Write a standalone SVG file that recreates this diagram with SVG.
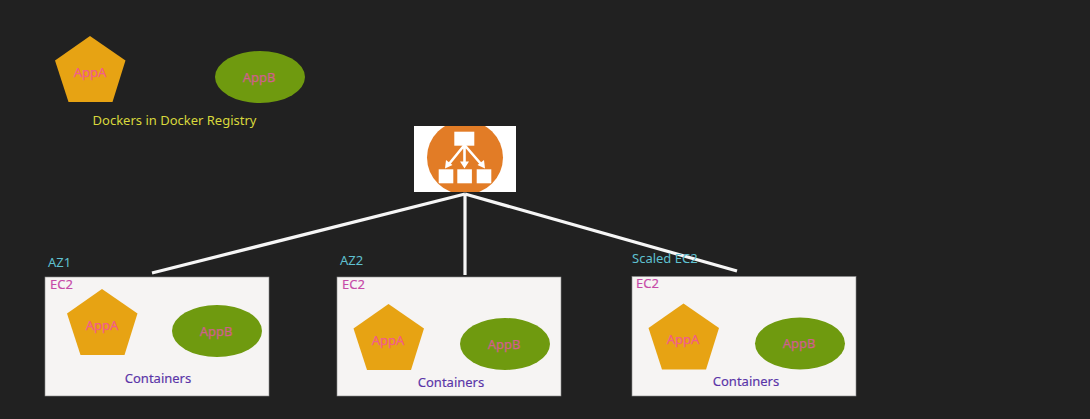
<svg xmlns="http://www.w3.org/2000/svg" width="1090" height="419" viewBox="0 0 1090 419">
<style>
text{font-family:"Noto Sans","DejaVu Sans",sans-serif;font-size:13px;text-anchor:middle}
.box{fill:#f6f4f3;stroke:#8a8a8a;stroke-width:.6}
.pent{fill:#e7a313}
.ell{fill:#6f9a0f}
.a{fill:#f25c8c;stroke:#f25c8c;stroke-width:.25}
.b{fill:#d0608c;stroke:#d0608c;stroke-width:.25}
.ec2{fill:#c649a8;text-anchor:start;stroke:#c649a8;stroke-width:.15}
.az{fill:#5fc0d0;text-anchor:start}
.c{fill:#5a35a8;stroke:#5a35a8;stroke-width:.15}
.link{stroke:#f6f6f6;stroke-width:3.2;fill:none}
.ico{fill:#fff}
.icol{stroke:#fff;stroke-width:2.6;fill:none}
</style>
<defs>
<polygon id="p" points="0,0 35.5,24.5 22.500,66 -21.500,66 -35,24.5"/>
<clipPath id="cl"><rect x="414" y="126" width="102" height="66"/></clipPath>
</defs>
<rect width="1090" height="419" fill="#212121"/>
<g id="registry">
<use href="#p" x="90" y="36" class="pent"/>
<text x="90" y="77" class="a">AppA</text>
<ellipse cx="260" cy="77" rx="45" ry="26" class="ell"/>
<text x="259" y="82" class="b">AppB</text>
<text x="174.500" y="125" fill="#d8d83c">Dockers in Docker Registry</text>
</g>
<g id="balancer">
<rect x="414" y="126" width="102" height="66" fill="#fff"/>
<ellipse cx="465" cy="157.500" rx="38" ry="37" fill="#e27c26" clip-path="url(#cl)"/>
<rect x="454.300" y="131.700" width="20" height="14" class="ico"/>
<rect x="438.700" y="169.300" width="14.600" height="14" class="ico"/>
<rect x="457.300" y="169.300" width="14.600" height="14" class="ico"/>
<rect x="476.700" y="169.300" width="14.600" height="14" class="ico"/>
<path d="M464.500 145L449 164M464.500 145V163M464.500 145L481 164" class="icol"/>
<path d="M445 168.500L446 160L452.500 165ZM464.500 168.500L460 161.500H469ZM485 168.500L477.500 165L484 160Z" class="ico"/>
</g>
<g id="connectors">
<path d="M465 194L152 273" class="link"/>
<path d="M465 194V275" class="link"/>
<path d="M465 194L737 271" class="link"/>
</g>
<g id="ec2-az1">
<text x="48" y="267" class="az">AZ1</text>
<rect x="45" y="277" width="224" height="119" class="box"/>
<text x="50" y="289" class="ec2">EC2</text>
<use href="#p" x="102" y="289" class="pent"/>
<text x="102" y="330" class="a">AppA</text>
<ellipse cx="217" cy="331" rx="45" ry="26" class="ell"/>
<text x="216" y="336" class="b">AppB</text>
<text x="158" y="383" class="c">Containers</text>
</g>
<g id="ec2-az2">
<text x="340" y="265" class="az">AZ2</text>
<rect x="337" y="277" width="224" height="119" class="box"/>
<text x="342" y="289" class="ec2">EC2</text>
<use href="#p" x="388.500" y="304" class="pent"/>
<text x="388" y="345" class="a">AppA</text>
<ellipse cx="505" cy="344" rx="45" ry="26" class="ell"/>
<text x="504" y="349" class="b">AppB</text>
<text x="451" y="387" class="c">Containers</text>
</g>
<g id="ec2-scaled">
<text x="632" y="263" class="az">Scaled EC2</text>
<rect x="632" y="276.500" width="224" height="119.500" class="box"/>
<text x="636" y="288" class="ec2">EC2</text>
<use href="#p" x="683.500" y="303.500" class="pent"/>
<text x="683" y="344" class="a">AppA</text>
<ellipse cx="800" cy="343.500" rx="45" ry="26" class="ell"/>
<text x="799" y="348" class="b">AppB</text>
<text x="746" y="386" class="c">Containers</text>
</g>
</svg>
